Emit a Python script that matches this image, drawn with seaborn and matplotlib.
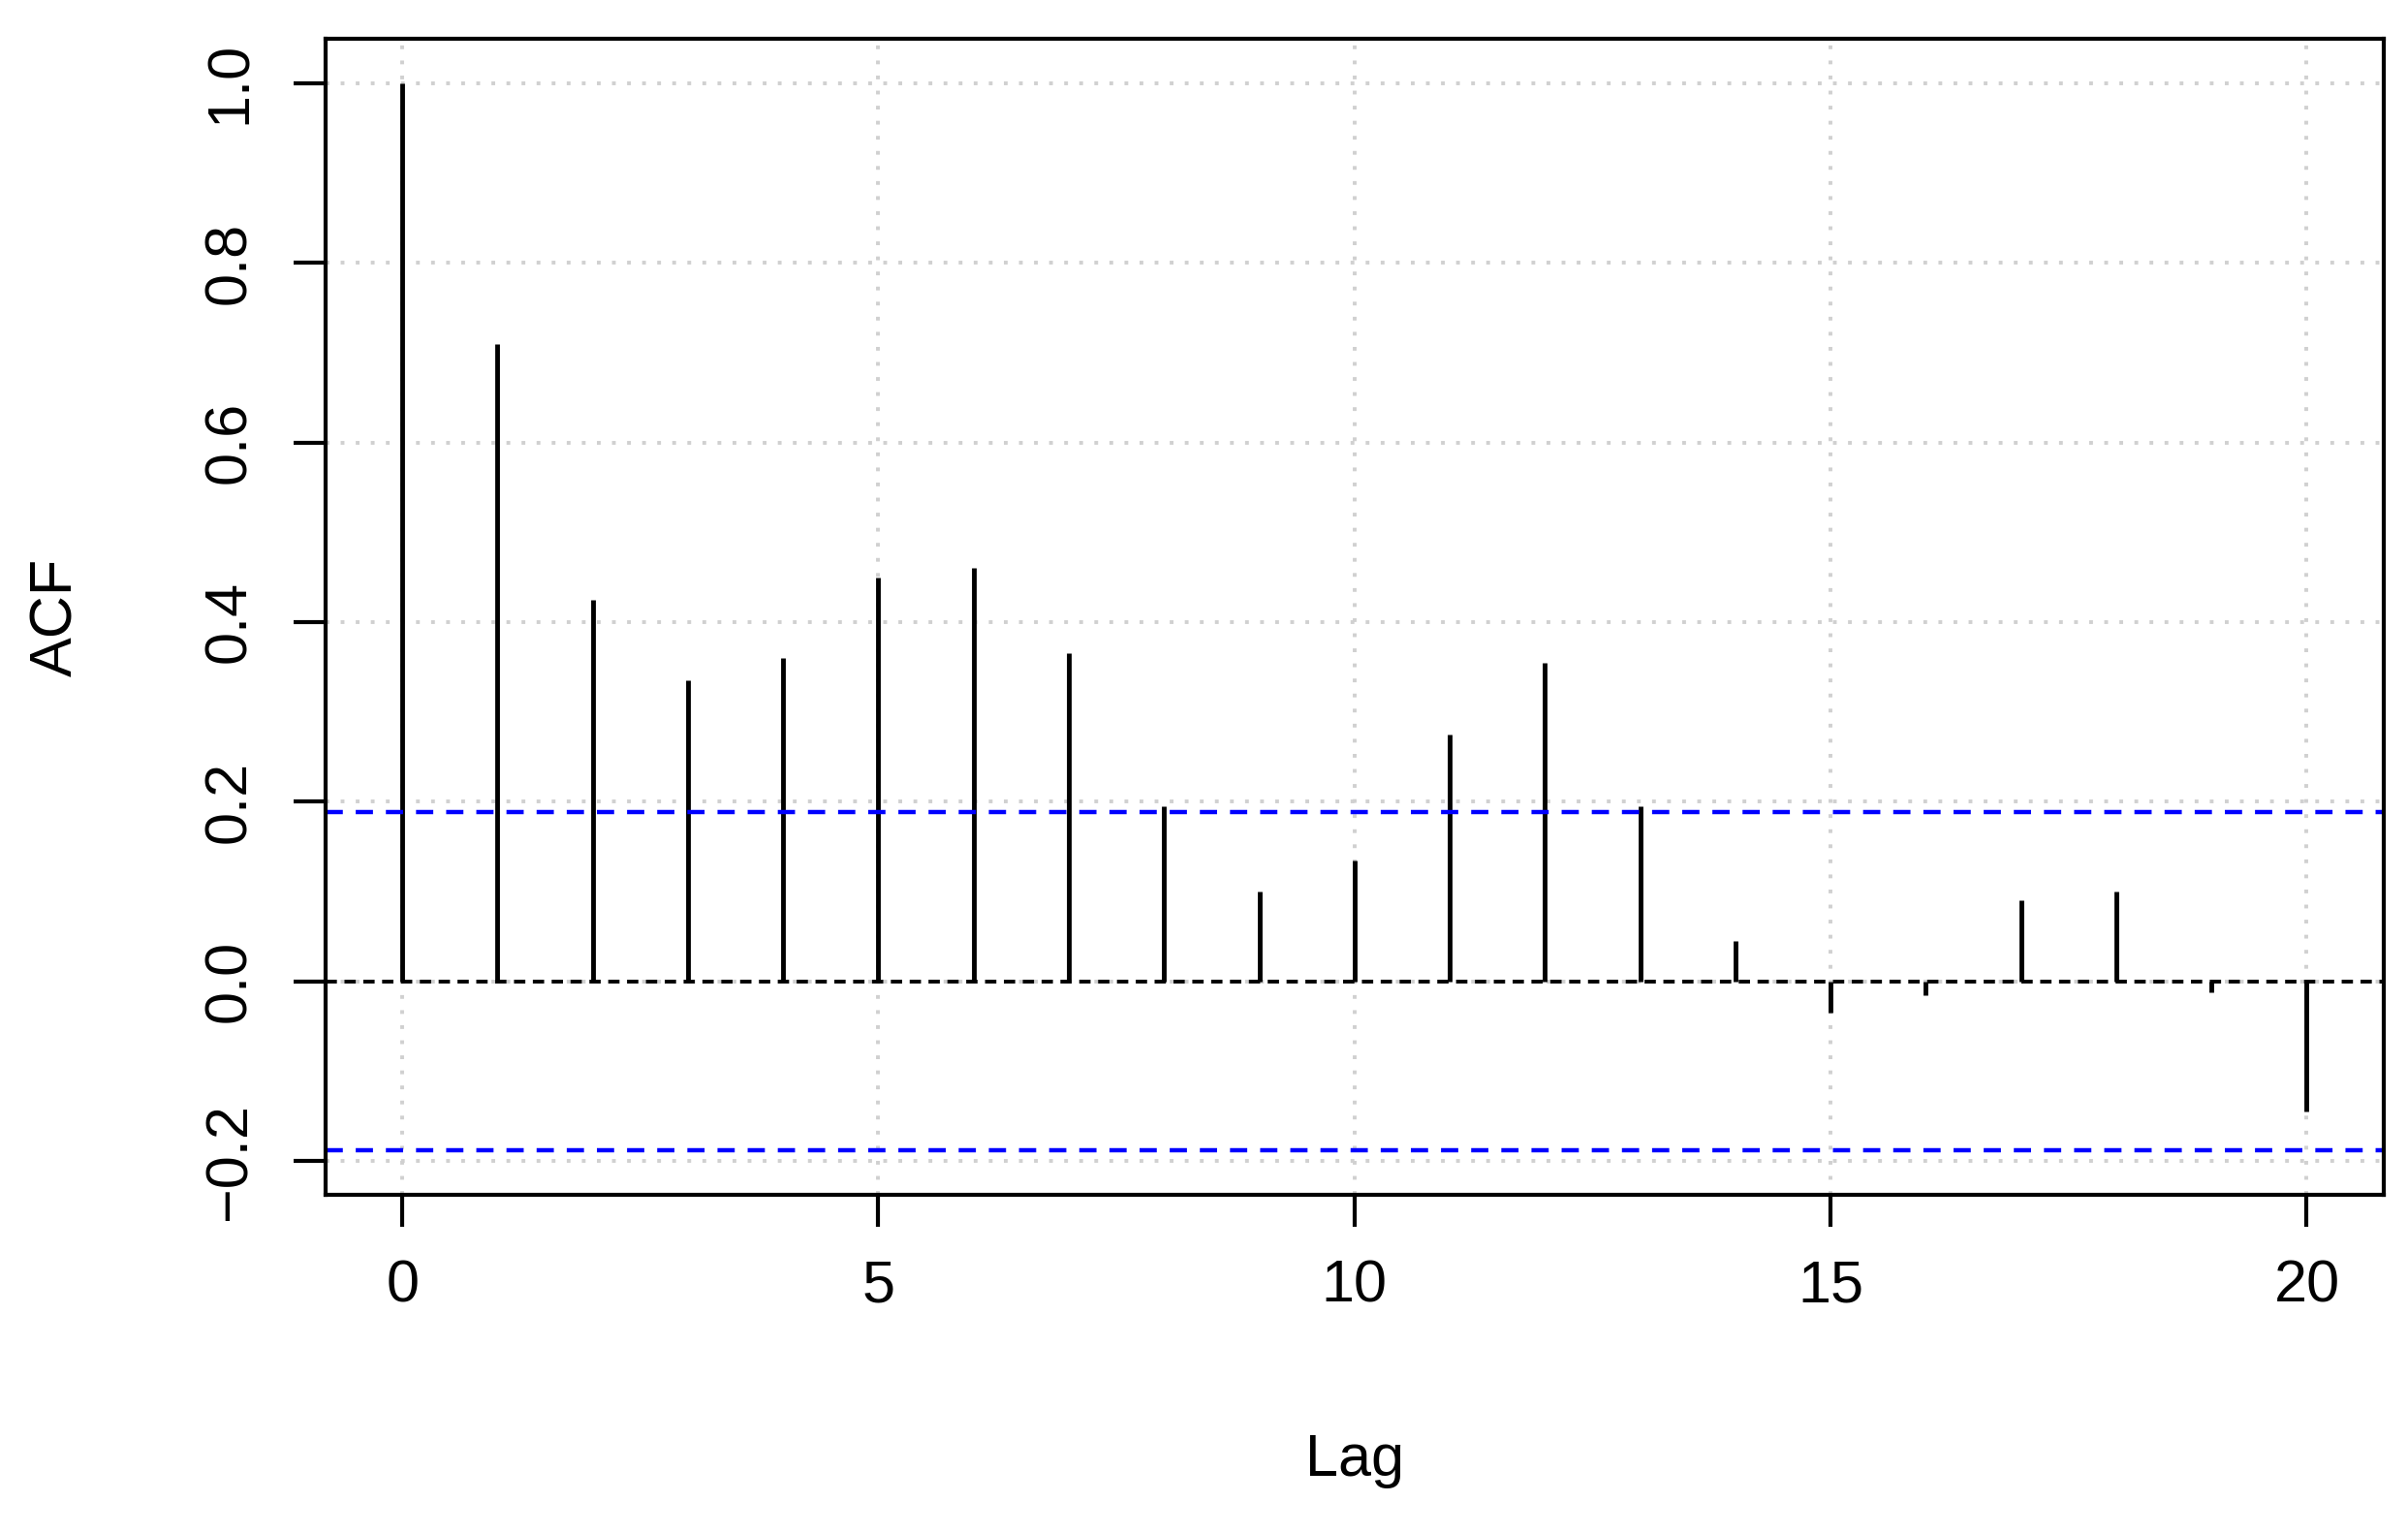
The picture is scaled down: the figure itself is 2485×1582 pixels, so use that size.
import matplotlib
matplotlib.use("Agg")
import matplotlib.pyplot as plt
import seaborn as sns
import pandas as pd

lags = list(range(21))
acf = [1.0, 0.71, 0.425, 0.335, 0.36, 0.45, 0.46, 0.365, 0.195, 0.10, 0.135,
       0.275, 0.355, 0.195, 0.045, -0.035, -0.015, 0.09, 0.10, -0.012, -0.145]
ci = 0.188
xticks = [0, 5, 10, 15, 20]
yticks = [-0.2, 0.0, 0.2, 0.4, 0.6, 0.8, 1.0]

sns.set_theme(style="white")
plt.rcParams['font.family'] = ['Liberation Sans', 'DejaVu Sans']
df = pd.DataFrame({"Lag": lags, "ACF": acf})

fig = plt.figure(figsize=(24.85, 15.82), dpi=100)
ax = fig.add_axes([0.1352, 0.2204, 0.8546, 0.7546])
ax.set_xlim(-0.806, 20.806)
ax.set_ylim(-0.238, 1.05)
for v in yticks:
    ax.axhline(v, color="#d0d0d0", ls=(0, (1, 3)), lw=2.8, zorder=0)
for v in xticks:
    ax.axvline(v, color="#d0d0d0", ls=(0, (1, 3)), lw=2.8, zorder=0)
ax.vlines(df["Lag"], 0, df["ACF"], color="black", lw=3.5)
sns.lineplot(x=[-0.806, 20.806], y=[0, 0], ax=ax, color="black", lw=2.8, linestyle=(0, (3, 2)))
for c in (ci, -ci):
    ax.axhline(c, color="#0000ff", lw=3.2, ls=(0, (4, 3)))
ax.set_xticks(xticks)
ax.set_xticklabels([str(x) for x in xticks])
ax.set_yticks(yticks)
ax.set_yticklabels([f"{y:.1f}".replace("-", "\u2212") for y in yticks], rotation=90, va="center")
ax.tick_params(axis="both", direction="out", length=24, width=3, labelsize=44, colors="black",
               left=True, bottom=True)
ax.tick_params(axis="x", pad=24)
ax.tick_params(axis="y", pad=26)
for s in ax.spines.values():
    s.set_color("black"); s.set_linewidth(3)
ax.set_xlabel("Lag", fontsize=44, labelpad=88, color="black")
ax.set_ylabel("ACF", fontsize=44, labelpad=88, color="black")
fig.savefig("out.png", dpi=100)
